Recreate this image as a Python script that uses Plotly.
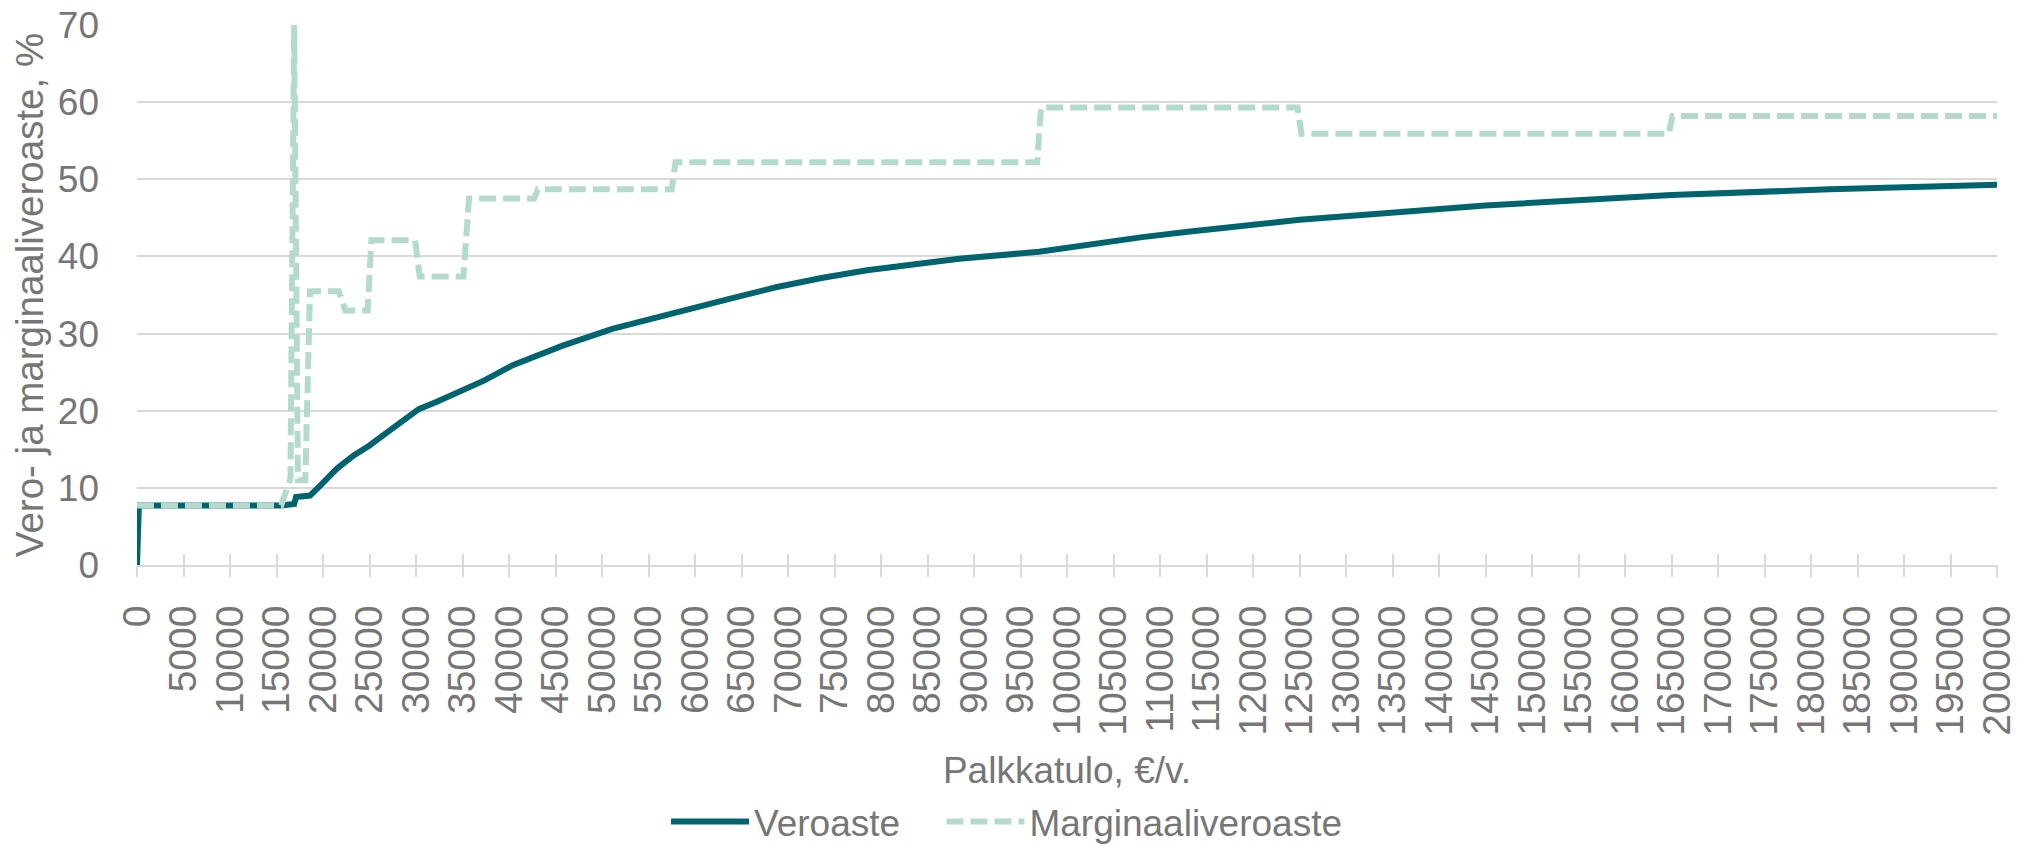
import plotly.graph_objects as go

# Palkkatulo (€/v.) and Veroaste (%)
vero_x = [0, 200, 15500, 16900, 17100, 18600, 19700, 21500, 23300, 25000, 27000, 28700,
          30300, 32300, 35100, 37300, 40400, 45700, 51100, 53900, 57600, 63700, 68700,
          73600, 78500, 83500, 88400, 97000, 103200, 108100, 113000, 118000, 125000,
          131000, 145000, 165000, 182000, 200000]
vero_y = [0, 7.7, 7.7, 7.9, 8.8, 9.0, 10.3, 12.5, 14.2, 15.5, 17.3, 18.9,
          20.2, 21.2, 22.6, 23.9, 25.9, 28.4, 30.6, 31.5, 32.7, 34.5, 36.0,
          37.2, 38.2, 39.0, 39.7, 40.6, 41.7, 42.5, 43.2, 43.9, 44.75,
          45.3, 46.6, 47.95, 48.7, 49.3]

# Palkkatulo (€/v.) and Marginaaliveroaste (%)
marg_x = [0, 15500, 16500, 16900, 17300, 18100, 18600, 21700, 22400, 24800, 25200,
          29900, 30400, 35100, 35700, 42700, 43100, 57500, 57900, 96800, 97200,
          124800, 125200, 164700, 165100, 200000]
marg_y = [7.7, 7.7, 11.2, 70, 11.0, 11.0, 35.5, 35.5, 33.0, 33.0, 42.1,
          42.1, 37.4, 37.4, 47.5, 47.5, 48.7, 48.7, 52.2, 52.2, 59.3,
          59.3, 55.9, 55.9, 58.2, 58.2]

series_names = ["Veroaste", "Marginaaliveroaste"]
x_title = "Palkkatulo, €/v."
y_title = "Vero- ja marginaaliveroaste, %"

TXT = "#767676"
GRID = "#D9D9D9"
FONT = "Liberation Sans, Arial, sans-serif"

fig = go.Figure()
fig.add_trace(go.Scatter(x=vero_x, y=vero_y, mode="lines", name=series_names[0],
                         legend="legend",
                         line=dict(color="#00646E", width=6)))
fig.add_trace(go.Scatter(x=marg_x, y=marg_y, mode="lines", name=series_names[1],
                         legend="legend2",
                         line=dict(color="#B4DACE", width=6, dash="17px,7px")))
# invisible helper traces for the crossing x ticks (inner and outer halves)
for ax in ("x2", "x3"):
    fig.add_trace(go.Scatter(x=vero_x, y=vero_y, mode="lines", xaxis=ax, showlegend=False,
                             hoverinfo="skip", line=dict(color="rgba(0,0,0,0)", width=0)))

tick_common = dict(range=[0, 200000], dtick=5000, tick0=0, overlaying="x", anchor="y",
                   side="bottom", showgrid=False, showline=False, showticklabels=False,
                   ticklen=11, tickwidth=2, tickcolor=GRID, zeroline=False,
                   automargin=False)

legend_common = dict(orientation="h", xanchor="left", yref="container", xref="container",
                     y=0.0286, yanchor="middle", font=dict(size=37, color=TXT),
                     itemwidth=78, tracegroupgap=0, bgcolor="rgba(0,0,0,0)")

# the page body adds an 8px offset, so the figure is 8px smaller than the window
fig.update_layout(
    width=2016, height=838,
    margin=dict(l=129, r=27, t=17, b=281, autoexpand=False),
    paper_bgcolor="white", plot_bgcolor="white",
    font=dict(family=FONT, color=TXT, size=37),
    xaxis=dict(range=[0, 200000], dtick=5000, tick0=0, tickformat="d", tickangle=-90,
               showgrid=False, showline=True, linecolor=GRID, linewidth=2,
               ticks="outside", ticklen=23, tickwidth=2, tickcolor="rgba(0,0,0,0)",
               tickfont=dict(size=39, color=TXT), ticklabeloverflow="allow",
               zeroline=False, automargin=False,
               title=dict(text=x_title, font=dict(size=37, color=TXT), standoff=27)),
    xaxis2=dict(ticks="inside", **tick_common),
    xaxis3=dict(ticks="outside", **tick_common),
    yaxis=dict(range=[0, 70], dtick=10, showgrid=True, gridcolor=GRID, gridwidth=2,
               zeroline=False, showline=False, ticks="", automargin=False,
               tickfont=dict(size=37, color=TXT), ticklabelstandoff=37,
               ticklabeloverflow="allow",
               title=dict(text=y_title, font=dict(size=38.5, color=TXT), standoff=2)),
    legend=dict(x=0.3264, **legend_common),
    legend2=dict(x=0.463, **legend_common),
    showlegend=True,
)

fig.write_html("out.html")
